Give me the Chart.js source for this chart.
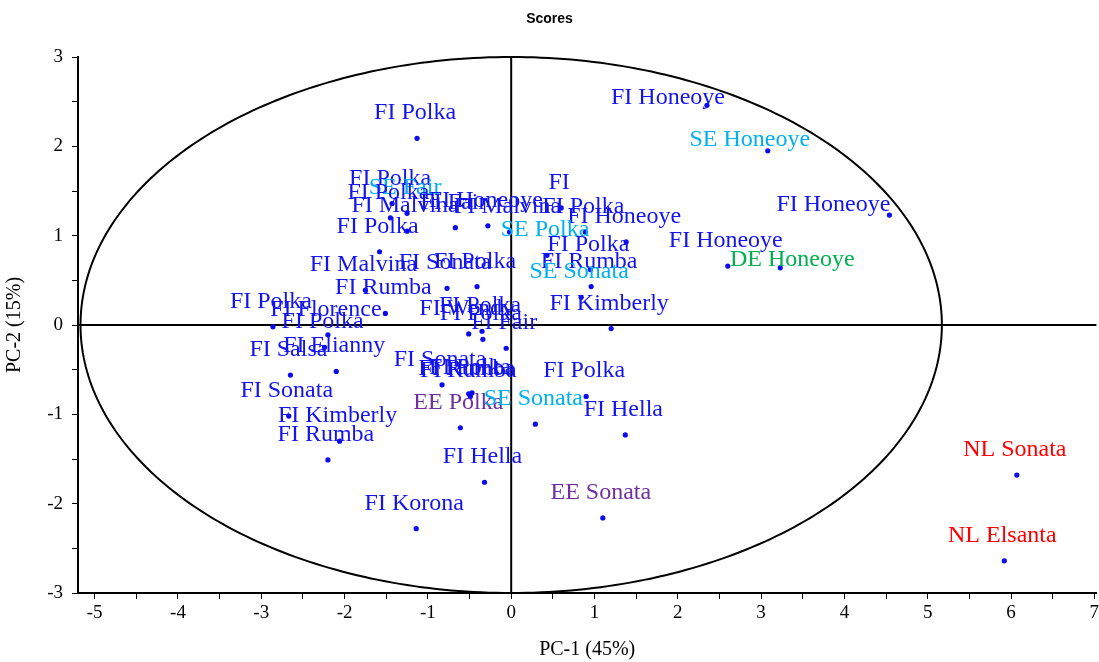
<!DOCTYPE html>
<html>
<head>
<meta charset="utf-8">
<script src="https://cdn.jsdelivr.net/npm/chart.js@4.4.1/dist/chart.umd.min.js"></script>
<style>
  html, body { margin: 0; padding: 0; background: #fff; }
  #wrap { width: 1099px; height: 662px; position: relative; }
</style>
</head>
<body>
<div id="wrap"><canvas id="scores"></canvas></div>
<script>
// sample names as printed next to each score
const sampleNames = [
  'FI Polka', 'FI Honeoye', 'SE Honeoye', 'FI Polka', 'SE Fair', 'FI Polka',
  'FI Malvina', 'FI Fair', 'FI Honeoye', 'FI Malvina', 'FI', 'FI Polka',
  'FI Honeoye', 'SE Polka', 'FI Polka', 'FI Rumba', 'SE Sonata', 'FI Kimberly',
  'FI Honeoye', 'FI Honeoye', 'DE Honeoye', 'FI Polka', 'FI Malvina', 'FI Sonata',
  'FI Polka', 'FI Rumba', 'FI Florence', 'FI Polka', 'FI Polka', 'FI Salsa',
  'FI Elianny', 'FI Sonata', 'FI Kimberly', 'FI Rumba', 'FI Wendy', 'FI Polka',
  'FI Polka', 'FI Fair', 'FI Sonata', 'FI Rumba', 'FI Rumba', 'FI Polka',
  'EE Polka', 'SE Sonata', 'FI Polka', 'FI Hella', 'FI Hella', 'EE Sonata',
  'FI Korona', 'NL Sonata', 'NL Elsanta'
];

const pc1 = [
  -1.13, 2.35, 3.08, -1.43, -1.25, -1.45,
  -1.25, -0.67, -0.28, -0.02, 0.60, 0.89,
  1.38, 0.43, 0.95, 0.96, 0.84, 1.20,
  4.54, 2.60, 3.23, -1.58, -1.75, -0.77,
  -0.41, -1.51, -2.20, -2.86, -2.24, -2.65,
  -2.10, -2.67, -2.06, -2.20, -0.51, -0.35,
  -0.34, -0.06, -0.83, -0.51, -0.49, -0.47,
  -0.61, 0.29, 0.90, 1.37, -0.32, 1.10,
  -1.14, 6.07, 5.92
];

const pc2 = [
  2.09, 2.46, 1.95, 1.36, 1.25, 1.20,
  1.05, 1.09, 1.11, 1.04, 1.31, 1.04,
  0.93, 0.78, 0.62, 0.43, 0.31, -0.04,
  1.23, 0.66, 0.64, 0.82, 0.39, 0.41,
  0.43, 0.13, -0.11, -0.02, -0.25, -0.56,
  -0.52, -1.02, -1.30, -1.51, -0.10, -0.07,
  -0.16, -0.26, -0.67, -0.77, -0.80, -0.76,
  -1.15, -1.11, -0.80, -1.23, -1.76, -2.16,
  -2.28, -1.68, -2.64
];

const xTickValues = [-5, -4, -3, -2, -1, 0, 1, 2, 3, 4, 5, 6, 7];
const yTickValues = [-3, -2, -1, 0, 1, 2, 3];

// Hotelling T2 ellipse semi-axes (PC-1, PC-2)
const ellipseRadii = [5.17, 3.0];

// label colour by country prefix
const countryColours = {
  FI: '#1414ec',
  SE: '#00b0f0',
  EE: '#7030a0',
  DE: '#00b050',
  NL: '#ff0000'
};

// a few labels sit off their usual place (pixels)
const labelNudge = {
  1: [-37, 18],
  2: [-16, 14],
  18: [-54, 15],
  20: [14, 17]
};

const serif = "'Liberation Serif', 'Times New Roman', serif";

const points = pc1.map((x, i) => ({ x: x, y: pc2[i] }));

const crosshairEllipse = {
  id: 'crosshairEllipse',
  beforeDatasetsDraw(chart) {
    const { ctx, chartArea, scales } = chart;
    const x0 = scales.x.getPixelForValue(0);
    const y0 = scales.y.getPixelForValue(0);
    ctx.save();
    ctx.strokeStyle = '#000';
    ctx.lineWidth = 2;
    ctx.beginPath();
    ctx.moveTo(x0, chartArea.top);
    ctx.lineTo(x0, chartArea.bottom);
    ctx.moveTo(chartArea.left, y0);
    ctx.lineTo(chartArea.right, y0);
    ctx.stroke();

    ctx.beginPath();
    for (let k = 0; k <= 360; k++) {
      const t = k * Math.PI / 180;
      const px = scales.x.getPixelForValue(ellipseRadii[0] * Math.cos(t));
      const py = scales.y.getPixelForValue(ellipseRadii[1] * Math.sin(t));
      if (k === 0) ctx.moveTo(px, py); else ctx.lineTo(px, py);
    }
    ctx.stroke();
    ctx.restore();
  }
};

const pointLabels = {
  id: 'pointLabels',
  afterDatasetsDraw(chart) {
    const { ctx } = chart;
    const meta = chart.getDatasetMeta(0);
    ctx.save();
    ctx.font = '24px ' + serif;
    ctx.textAlign = 'center';
    ctx.textBaseline = 'alphabetic';
    meta.data.forEach((el, i) => {
      const name = sampleNames[i];
      const nudge = labelNudge[i] || [0, 0];
      ctx.fillStyle = countryColours[name.slice(0, 2)] || '#1414ec';
      ctx.fillText(name, el.x - 2 + nudge[0], el.y - 19 + nudge[1]);
    });
    ctx.restore();
  }
};

new Chart(document.getElementById('scores'), {
  type: 'scatter',
  data: {
    datasets: [{
      label: 'Scores',
      data: points,
      pointRadius: 2.6,
      pointHoverRadius: 2.6,
      pointBackgroundColor: '#0a0af0',
      pointBorderWidth: 0
    }]
  },
  options: {
    responsive: true,
    maintainAspectRatio: false,
    animation: false,
    layout: { padding: { top: 0, right: 0, bottom: 0, left: 0 } },
    plugins: {
      legend: { display: false },
      tooltip: { enabled: false },
      title: {
        display: true,
        text: 'Scores',
        color: '#000',
        font: { family: "'Liberation Sans Narrow', 'Liberation Sans', Arial, sans-serif", size: 14, weight: 'bold' },
        padding: { top: 11, bottom: 29.2 }
      }
    },
    scales: {
      x: {
        type: 'linear',
        min: -5.2,
        max: 7.025,
        afterFit(scale) {
          scale.height = 69;
          scale.paddingLeft = 0;
          scale.paddingRight = 0;
        },
        title: {
          display: true,
          text: 'PC-1 (45%)',
          color: '#000',
          font: { family: serif, size: 20 },
          padding: { top: 0, bottom: 0 }
        },
        ticks: {
          stepSize: 0.5,
          includeBounds: false,
          autoSkip: false,
          maxRotation: 0,
          padding: 3,
          color: '#000',
          font: { family: serif, size: 19 },
          callback: v => xTickValues.includes(v) ? String(v) : ''
        },
        grid: {
          drawOnChartArea: false,
          drawTicks: true,
          tickLength: 6,
          color: '#000'
        },
        border: { display: true, color: '#000', width: 2 }
      },
      y: {
        type: 'linear',
        min: -3,
        max: 3,
        afterFit(scale) {
          scale.width = 78;
        },
        title: {
          display: true,
          text: 'PC-2 (15%)',
          color: '#000',
          font: { family: serif, size: 20 },
          padding: { top: 3, bottom: 0 }
        },
        ticks: {
          stepSize: 0.5,
          includeBounds: false,
          autoSkip: false,
          padding: 9,
          color: '#000',
          font: { family: serif, size: 19 },
          callback: v => yTickValues.includes(v) ? String(v) : ''
        },
        grid: {
          drawOnChartArea: false,
          drawTicks: true,
          tickLength: 6,
          color: '#000'
        },
        border: { display: true, color: '#000', width: 2 }
      }
    }
  },
  plugins: [crosshairEllipse, pointLabels]
});
</script>
</body>
</html>
